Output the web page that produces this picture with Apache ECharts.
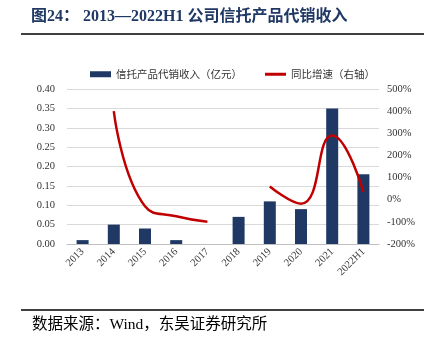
<!DOCTYPE html>
<html><head><meta charset="utf-8">
<script src="https://cdn.jsdelivr.net/npm/echarts@6/dist/echarts.min.js"></script>
<style>html,body{margin:0;padding:0;background:#fff}#c{width:434px;height:348px}</style>
</head><body><div id="c"></div>
<script>
var categories = ['2013','2014','2015','2016','2017','2018','2019','2020','2021','2022H1'];
var revenue = [0.01, 0.05, 0.04, 0.01, 0, 0.07, 0.11, 0.09, 0.35, 0.18];
var growth = [null, 400, -30, -75, -100, null, 60, -18, 290, 36];
var leftTicks = {min: 0, max: 0.4, interval: 0.05};
var rightTicks = {min: -200, max: 500, interval: 100};
var serif = "'Liberation Serif','Times New Roman',serif";
var cjk = "'Liberation Serif','Noto Sans CJK SC',serif";

var chart = echarts.init(document.getElementById('c'));
chart.setOption({
  animation: false,
  grid: {left: 67, right: 55, top: 89, bottom: 104},
  graphic: [
    {type: 'text', left: 31, top: 9, style: {text: '图24： 2013—2022H1 公司信托产品代销收入', font: "bold 16px " + cjk, fill: '#1f3864'}},
    {type: 'line', shape: {x1: 21, y1: 34, x2: 424, y2: 34}, style: {stroke: '#000', lineWidth: 1.5}},
    {type: 'line', shape: {x1: 21, y1: 310, x2: 424, y2: 310}, style: {stroke: '#000', lineWidth: 1.5}},
    {type: 'text', left: 32, top: 317, style: {text: '数据来源：Wind，东吴证券研究所', font: "15.5px " + cjk, fill: '#000'}}
  ],
  legend: {
    top: 64, left: 85, itemWidth: 21, itemHeight: 6, itemGap: 23,
    textStyle: {fontSize: 10.5, fontFamily: "'Noto Sans CJK SC',serif", color: '#333'},
    data: [{name: '信托产品代销收入（亿元）', icon: 'rect'},
           {name: '同比增速（右轴）', icon: 'path://M0,0h21v3h-21z'}]
  },
  xAxis: {
    type: 'category', data: categories,
    axisLine: {lineStyle: {color: '#bfbfbf'}},
    axisTick: {show: false},
    axisLabel: {rotate: 45, fontSize: 10.5, fontFamily: serif, color: '#333', margin: 6, interval: 0}
  },
  yAxis: [
    {type: 'value', min: leftTicks.min, max: leftTicks.max, interval: leftTicks.interval,
     axisLine: {show: false}, axisTick: {show: false},
     axisLabel: {fontSize: 10.5, fontFamily: serif, color: '#333', margin: 12, formatter: function(v){return v.toFixed(2);}},
     splitLine: {lineStyle: {color: '#d9d9d9'}}},
    {type: 'value', min: rightTicks.min, max: rightTicks.max, interval: rightTicks.interval,
     axisLine: {show: false}, axisTick: {show: false},
     axisLabel: {fontSize: 10.5, fontFamily: serif, color: '#333', margin: 8, formatter: function(v){return v + '%';}},
     splitLine: {show: false}}
  ],
  series: [
    {name: '信托产品代销收入（亿元）', type: 'bar', data: revenue, barWidth: 12,
     itemStyle: {color: '#1f3864'}},
    {name: '同比增速（右轴）', type: 'line', yAxisIndex: 1, data: growth, smooth: true,
     connectNulls: false, symbol: 'none', lineStyle: {color: '#c00000', width: 2.5},
     itemStyle: {color: '#c00000'}}
  ]
});
</script></body></html>
